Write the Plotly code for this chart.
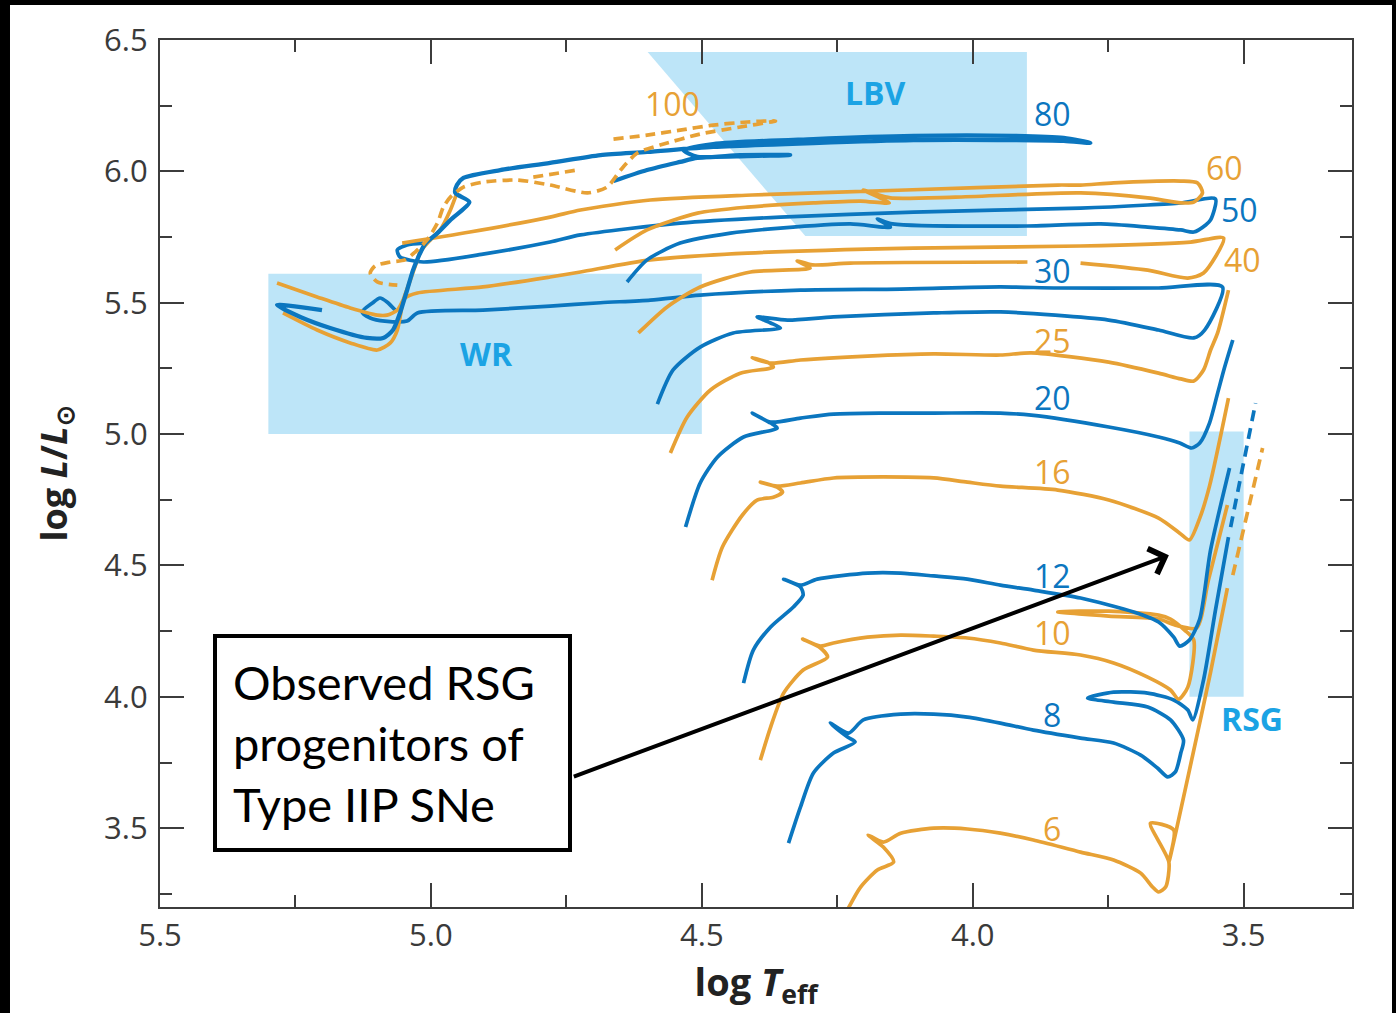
import plotly.graph_objects as go

# ---------------- data (log Teff, log L/Lsun) ----------------
x_ticks = [5.5, 5.0, 4.5, 4.0, 3.5]
x_ticklabels = ["5.5", "5.0", "4.5", "4.0", "3.5"]
x_minor = [5.25, 4.75, 4.25, 3.75]
y_ticks = [3.5, 4.0, 4.5, 5.0, 5.5, 6.0, 6.5]
y_ticklabels = ["3.5", "4.0", "4.5", "5.0", "5.5", "6.0", "6.5"]
y_minor = [3.25, 3.75, 4.25, 4.75, 5.25, 5.75, 6.25]

# regions
wr_box = [5.30, 4.50, 5.00, 5.61]          # x0, x1, y0, y1
rsg_box = [3.60, 3.50, 4.00, 5.01]
lbv_t = [4.600, 3.900, 3.900, 4.309]
lbv_l = [6.454, 6.454, 5.754, 5.754]

# tracks
t6 = [4.231, 4.207, 4.176, 4.146, 4.165, 4.193, 4.165, 4.133, 4.072, 4.010, 3.949, 3.888, 3.801, 3.740, 3.690, 3.668, 3.657, 3.644, 3.638, 3.672, 3.629, 3.638, 3.594, 3.561, 3.530]
l6 = [3.190, 3.276, 3.341, 3.371, 3.428, 3.474, 3.447, 3.481, 3.500, 3.497, 3.481, 3.455, 3.409, 3.379, 3.329, 3.276, 3.257, 3.276, 3.371, 3.519, 3.493, 3.371, 3.778, 4.094, 4.414]
t6_late = [3.520, 3.465]
l6_late = [4.463, 4.947]

t8 = [4.340, 4.318, 4.294, 4.257, 4.217, 4.231, 4.263, 4.229, 4.202, 4.133, 4.072, 4.010, 3.949, 3.888, 3.801, 3.740, 3.690, 3.659, 3.640, 3.626, 3.616, 3.611, 3.635, 3.677, 3.740, 3.788, 3.740, 3.677, 3.629, 3.603, 3.594, 3.574, 3.552, 3.528]
l8 = [3.443, 3.580, 3.710, 3.786, 3.828, 3.847, 3.900, 3.862, 3.912, 3.934, 3.934, 3.923, 3.900, 3.873, 3.843, 3.824, 3.778, 3.729, 3.695, 3.714, 3.786, 3.835, 3.912, 3.961, 3.980, 3.995, 4.018, 4.014, 3.988, 3.950, 3.912, 4.064, 4.330, 4.608]
t8_late = [3.524, 3.478]
l8_late = [4.646, 5.118]

t10 = [4.392, 4.373, 4.349, 4.313, 4.268, 4.281, 4.314, 4.281, 4.257, 4.194, 4.133, 4.072, 4.010, 3.949, 3.888, 3.801, 3.740, 3.677, 3.635, 3.620, 3.603, 3.592, 3.609, 3.635, 3.657, 3.749, 3.843, 3.749, 3.657, 3.626, 3.587, 3.565, 3.530]
l10 = [3.759, 3.885, 4.014, 4.102, 4.151, 4.186, 4.220, 4.193, 4.205, 4.227, 4.235, 4.231, 4.224, 4.205, 4.178, 4.159, 4.129, 4.075, 4.026, 3.991, 4.037, 4.216, 4.254, 4.296, 4.311, 4.326, 4.323, 4.307, 4.296, 4.273, 4.262, 4.444, 4.730]

t12 = [4.423, 4.405, 4.373, 4.331, 4.313, 4.318, 4.349, 4.318, 4.287, 4.194, 4.133, 4.072, 4.010, 3.949, 3.888, 3.801, 3.703, 3.657, 3.629, 3.618, 3.600, 3.581, 3.561, 3.526]
l12 = [4.052, 4.178, 4.266, 4.342, 4.387, 4.418, 4.448, 4.425, 4.448, 4.471, 4.471, 4.460, 4.448, 4.425, 4.406, 4.376, 4.323, 4.285, 4.227, 4.193, 4.216, 4.296, 4.559, 4.871]

t16 = [4.481, 4.462, 4.425, 4.398, 4.368, 4.351, 4.361, 4.392, 4.361, 4.318, 4.257, 4.165, 4.072, 4.010, 3.949, 3.843, 3.749, 3.657, 3.618, 3.600, 3.581, 3.563, 3.528]
l16 = [4.444, 4.570, 4.692, 4.749, 4.760, 4.779, 4.798, 4.817, 4.802, 4.814, 4.833, 4.837, 4.833, 4.817, 4.802, 4.787, 4.749, 4.680, 4.623, 4.597, 4.680, 4.802, 5.137]

t20 = [4.530, 4.503, 4.471, 4.423, 4.361, 4.373, 4.407, 4.373, 4.318, 4.257, 4.165, 4.072, 3.949, 3.892, 3.749, 3.657, 3.618, 3.596, 3.581, 3.563, 3.548, 3.535, 3.520]
l20 = [4.646, 4.814, 4.913, 4.989, 5.023, 5.042, 5.080, 5.046, 5.061, 5.076, 5.080, 5.080, 5.080, 5.072, 5.027, 4.989, 4.966, 4.947, 4.966, 5.042, 5.156, 5.255, 5.358]

t25 = [4.558, 4.527, 4.484, 4.429, 4.368, 4.379, 4.407, 4.373, 4.318, 4.194, 4.072, 3.949, 3.892, 3.749, 3.657, 3.616, 3.592, 3.574, 3.561, 3.548, 3.528]
l25 = [4.928, 5.065, 5.168, 5.232, 5.255, 5.274, 5.290, 5.270, 5.282, 5.297, 5.305, 5.301, 5.309, 5.274, 5.232, 5.210, 5.202, 5.244, 5.320, 5.385, 5.548]

t30 = [4.582, 4.553, 4.503, 4.442, 4.355, 4.373, 4.398, 4.342, 4.257, 4.072, 3.949, 3.749, 3.657, 3.592, 3.572, 3.539, 3.657, 3.843, 3.949, 4.133, 4.318, 4.503, 4.595, 4.687, 4.780, 4.904, 5.025, 5.044, 5.085, 5.112, 5.127, 5.108, 5.094, 5.081, 5.066]
l30 = [5.114, 5.244, 5.331, 5.385, 5.404, 5.423, 5.446, 5.434, 5.446, 5.461, 5.465, 5.434, 5.396, 5.366, 5.396, 5.560, 5.556, 5.556, 5.560, 5.552, 5.548, 5.529, 5.510, 5.500, 5.487, 5.472, 5.461, 5.430, 5.430, 5.442, 5.465, 5.499, 5.518, 5.503, 5.472]

t40 = [4.617, 4.564, 4.503, 4.410, 4.300, 4.324, 4.296, 4.226, 3.899, None, 3.801, 3.677, 3.603, 3.574, 3.537, 3.598, 3.801, 4.109, 4.416, 4.595, 4.724, 4.780, 4.904, 5.025, 5.048, 5.062, 5.081, 5.099, 5.149, 5.210, 5.284]
l40 = [5.385, 5.484, 5.560, 5.617, 5.632, 5.659, 5.644, 5.651, 5.655, None, 5.651, 5.624, 5.594, 5.613, 5.746, 5.731, 5.716, 5.708, 5.689, 5.663, 5.617, 5.598, 5.560, 5.537, 5.518, 5.472, 5.453, 5.453, 5.480, 5.522, 5.575]

t50 = [4.638, 4.601, 4.540, 4.447, 4.355, 4.226, 4.152, 4.176, 4.148, 3.899, 3.764, 3.677, 3.616, 3.592, 3.570, 3.561, 3.552, 3.616, 3.677, 3.801, 4.109, 4.355, 4.540, 4.724, 4.780, 4.904, 5.014, 5.057, 5.062, 5.044, 5.014]
l50 = [5.579, 5.663, 5.727, 5.765, 5.784, 5.800, 5.788, 5.819, 5.800, 5.792, 5.800, 5.788, 5.777, 5.769, 5.796, 5.815, 5.895, 5.880, 5.872, 5.860, 5.845, 5.826, 5.803, 5.758, 5.731, 5.685, 5.655, 5.674, 5.701, 5.720, 5.727]

t60 = [4.660, 4.601, 4.508, 4.416, 4.294, 4.207, 4.154, 4.202, 4.180, 4.152, 4.032, 3.801, 3.677, 3.616, 3.592, 3.576, 3.585, 3.616, 3.740, 3.801, 3.843, 4.124, 4.407, 4.595, 4.724, 4.780, 4.928, 5.053, None, 4.952, 4.964, 4.983, 5.001, 5.020, 5.025, 5.038, 5.051, 5.062, 5.075, 5.099, 5.149, 5.210, 5.273]
l60 = [5.701, 5.777, 5.841, 5.864, 5.880, 5.887, 5.880, 5.929, 5.914, 5.899, 5.902, 5.918, 5.899, 5.880, 5.883, 5.918, 5.956, 5.963, 5.956, 5.948, 5.948, 5.929, 5.910, 5.891, 5.853, 5.826, 5.769, 5.727, None, 5.918, 5.853, 5.777, 5.739, 5.693, 5.663, 5.586, 5.510, 5.396, 5.347, 5.320, 5.347, 5.396, 5.461]

t80 = [4.663, 4.601, 4.540, 4.508, 4.416, 4.337, 4.429, 4.508, 4.534, 4.479, 4.294, 4.109, 3.925, 3.832, 3.783, 3.832, 3.925, 4.109, 4.294, 4.479, 4.601, 4.687, 4.780, 4.872, 4.940, 4.952, 4.955, 4.929, 4.964, 4.988, 5.011, 5.024, 5.033, 5.044, 5.057, 5.070, 5.088, 5.118, 5.186, 5.241, 5.284, 5.201]
l80 = [5.963, 6.005, 6.036, 6.051, 6.058, 6.062, 6.062, 6.055, 6.081, 6.104, 6.123, 6.135, 6.135, 6.127, 6.108, 6.116, 6.119, 6.119, 6.108, 6.093, 6.074, 6.062, 6.032, 6.005, 5.975, 5.948, 5.918, 5.883, 5.815, 5.765, 5.723, 5.670, 5.624, 5.548, 5.461, 5.396, 5.366, 5.366, 5.404, 5.446, 5.491, 5.472]

t100 = [4.663, 4.601, 4.540, 4.479, 4.416, 4.364, 4.429, 4.503, 4.577, 4.619, 4.650, 4.675, 4.711, 4.780, 4.841, 4.904, 4.940, 4.964, 4.977, 4.988, 5.007, 5.029, 5.048, 5.075, 5.103, 5.112, 5.099, 5.062, None, 4.811, 4.730]
l100 = [6.123, 6.138, 6.157, 6.176, 6.188, 6.192, 6.169, 6.142, 6.100, 6.070, 6.005, 5.940, 5.918, 5.948, 5.967, 5.959, 5.940, 5.902, 5.864, 5.803, 5.739, 5.693, 5.663, 5.655, 5.640, 5.613, 5.579, 5.567, None, 5.978, 6.005]

# mass labels
mass_labels = ["100", "80", "60", "50", "40", "30", "25", "20", "16", "12", "10", "8", "6"]
mass_label_t = [4.554, 3.853, 3.535, 3.507, 3.502, 3.853, 3.853, 3.853, 3.853, 3.853, 3.853, 3.853, 3.853]
mass_label_l = [6.260, 6.222, 6.013, 5.853, 5.665, 5.621, 5.358, 5.141, 4.856, 4.463, 4.243, 3.934, 3.500]
mass_label_c = ["o", "b", "o", "b", "o", "b", "o", "b", "o", "b", "o", "b", "o"]

region_names = ["LBV", "WR", "RSG"]
region_t = [4.180, 4.898, 3.485]
region_l = [6.302, 5.305, 3.919]

note_text = "Observed RSG<br>progenitors of<br>Type IIP SNe"
note_pos = [5.0706, 3.826]
arrow_tail = [4.739, 3.6945]
arrow_head = [3.638, 4.539]

# ---------------- style ----------------
BLUE = "#0B76BF"
ORANGE = "#E7A135"
REGION_FILL = "#BDE5F8"
REGION_TXT = "#1BA3E4"
AXIS = "#3c3c3c"
NUM_FONT = "Open Sans, sans-serif"

fig = go.Figure()

def add_track(t, l, color, dash="solid", width=3.7):
    fig.add_trace(go.Scatter(
        x=t, y=l, mode="lines", hoverinfo="skip", showlegend=False,
        connectgaps=False,
        line=dict(color=color, width=width, dash=dash, shape="spline", smoothing=0.7)))

add_track(t6, l6, ORANGE)
add_track(t6_late, l6_late, ORANGE, dash="11px,7px")
add_track(t8, l8, BLUE)
add_track(t8_late, l8_late, BLUE, dash="11px,7px")
add_track(t10, l10, ORANGE)
add_track(t12, l12, BLUE)
add_track(t16, l16, ORANGE)
add_track(t20, l20, BLUE)
add_track(t25, l25, ORANGE)
add_track(t30, l30, BLUE)
add_track(t40, l40, ORANGE)
add_track(t50, l50, BLUE)
add_track(t60, l60, ORANGE)
add_track(t80, l80, BLUE, width=4.3)
add_track(t100, l100, ORANGE, dash="10px,6px")

# regions
fig.add_shape(type="rect", xref="x", yref="y", x0=wr_box[0], x1=wr_box[1], y0=wr_box[2], y1=wr_box[3],
              fillcolor=REGION_FILL, line_width=0, layer="below")
fig.add_shape(type="rect", xref="x", yref="y", x0=rsg_box[0], x1=rsg_box[1], y0=rsg_box[2], y1=rsg_box[3],
              fillcolor=REGION_FILL, line_width=0, layer="below")
lbv_path = "M " + " L ".join(f"{a},{b}" for a, b in zip(lbv_t, lbv_l)) + " Z"
fig.add_shape(type="path", xref="x", yref="y", path=lbv_path, fillcolor=REGION_FILL, line_width=0, layer="below")

# labels
for txt, t, l, c in zip(mass_labels, mass_label_t, mass_label_l, mass_label_c):
    fig.add_annotation(x=t, y=l, text=txt, showarrow=False, xanchor="center", yanchor="middle",
                       font=dict(family=NUM_FONT, size=32, color=BLUE if c == "b" else ORANGE))
for txt, t, l in zip(region_names, region_t, region_l):
    fig.add_annotation(x=t, y=l, text=f"<b>{txt}</b>", showarrow=False, xanchor="center", yanchor="middle",
                       font=dict(family=NUM_FONT, size=32, color=REGION_TXT))

# note box + arrow
fig.add_annotation(x=note_pos[0], y=note_pos[1], text=note_text, showarrow=False, align="left",
                   xanchor="center", yanchor="middle", bgcolor="white", bordercolor="black",
                   borderwidth=4, borderpad=16, width=319,
                   font=dict(family="Lato, Open Sans, sans-serif", size=47, color="black"))
fig.add_annotation(x=arrow_head[0], y=arrow_head[1], ax=arrow_tail[0], ay=arrow_tail[1],
                   axref="x", ayref="y", xref="x", yref="y", text="", showarrow=True,
                   arrowhead=4, arrowsize=1.3, arrowwidth=4, arrowcolor="black", standoff=0, startstandoff=0)

# black frame of the picture
for x0, x1, y0, y1 in [(-0.2, -0.12584, -0.3, 1.3), (-0.2, 1.2, 1.04037, 1.3), (1.03356, 1.2, -0.3, 1.3)]:
    fig.add_shape(type="rect", xref="paper", yref="paper", x0=x0, x1=x1, y0=y0, y1=y1,
                  fillcolor="black", line_width=0, layer="above")

common_axis = dict(showline=True, linecolor=AXIS, linewidth=2.2, mirror="ticks", ticks="inside",
                   ticklen=24, tickwidth=2.2, tickcolor=AXIS, showgrid=False, zeroline=False,
                   tickfont=dict(family=NUM_FONT, size=31, color="#3a3a3a"))

fig.update_xaxes(range=[5.5, 3.3], tickvals=x_ticks, ticktext=x_ticklabels,
                 minor=dict(tickvals=x_minor, ticks="inside", ticklen=12, tickwidth=2.2, tickcolor=AXIS, showgrid=False),
                 ticklabelstandoff=0,
                 title=dict(text="<b>log <i>T</i><sub>eff</sub></b>", standoff=0,
                            font=dict(family="Open Sans, sans-serif", size=38, color="#222")),
                 **common_axis)
fig.update_yaxes(range=[3.2, 6.5], tickvals=y_ticks, ticktext=y_ticklabels,
                 minor=dict(tickvals=y_minor, ticks="inside", ticklen=12, tickwidth=2.2, tickcolor=AXIS, showgrid=False),
                 ticklabelstandoff=4,
                 title=dict(text="<b>log <i>L</i>/<i>L</i><sub>⊙</sub></b>", standoff=26,
                            font=dict(family="Open Sans, sans-serif", size=36, color="#222")),
                 **common_axis)

fig.update_layout(width=1396, height=1013, autosize=False,
                  margin=dict(l=160, r=44, t=40, b=106),
                  paper_bgcolor="white", plot_bgcolor="white", showlegend=False)

fig.write_html("out.html", config={"displayModeBar": False},
               post_script="document.body.style.margin='0px';document.body.style.overflow='hidden';")
